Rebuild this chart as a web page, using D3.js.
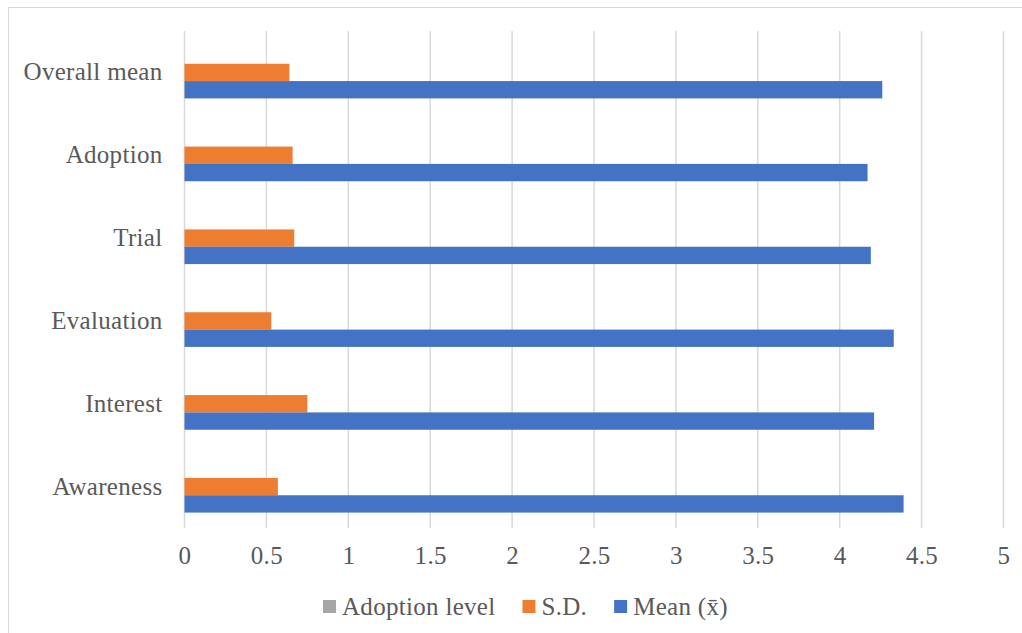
<!DOCTYPE html>
<html>
<head>
<meta charset="utf-8">
<script src="https://cdn.jsdelivr.net/npm/d3@7"></script>
<style>
  body { margin: 0; background: #fff; }
  svg text { fill: #595959; letter-spacing: 0.3px; }
</style>
</head>
<body>
<div id="graph"></div>
<script>
// chart size
var width = 1022;
var height = 633;

// data (top to bottom)
var categories = ["Overall mean", "Adoption", "Trial", "Evaluation", "Interest", "Awareness"];
var meanValues = [4.26, 4.17, 4.19, 4.33, 4.21, 4.39];
var sdValues = [0.64, 0.66, 0.67, 0.53, 0.75, 0.57];
var adoptionLevel = [0, 0, 0, 0, 0, 0];
var seriesNames = ["Adoption level", "S.D.", "Mean (x\u0304)"];
var seriesColors = ["#a5a5a5", "#ed7d31", "#4472c4"];
var xTicks = [0, 0.5, 1, 1.5, 2, 2.5, 3, 3.5, 4, 4.5, 5];

var seriesValues = [adoptionLevel, sdValues, meanValues];

var margin = { top: 31, left: 184.5, right: 1003.5, bottom: 528 };
var fontFamily = "Liberation Serif, Times New Roman, serif";

var svg = d3.select("#graph")
  .append("svg")
  .attr("width", width)
  .attr("height", height);

// chart area border (runs off the picture right and bottom)
svg.append("rect")
  .attr("x", 8.5)
  .attr("y", 7.5)
  .attr("width", width + 10)
  .attr("height", height + 10)
  .attr("fill", "none")
  .attr("stroke", "#d9d9d9")
  .attr("stroke-width", 1);

var xScale = d3.scaleLinear()
  .domain([0, 5])
  .range([margin.left, margin.right]);

var yScale = d3.scaleBand()
  .domain(categories)
  .range([margin.top, margin.bottom])
  .padding(0);

var ySeries = d3.scaleBand()
  .domain(seriesNames)
  .range([0, yScale.bandwidth()])
  .paddingInner(0)
  .paddingOuter(0.89);

// gridlines
svg.append("g")
  .selectAll("line")
  .data(xTicks)
  .join("line")
  .attr("x1", function(d) { return xScale(d); })
  .attr("x2", function(d) { return xScale(d); })
  .attr("y1", margin.top)
  .attr("y2", margin.bottom)
  .attr("stroke", "#d9d9d9")
  .attr("stroke-width", 1.5);

// bars
seriesNames.forEach(function(name, i) {
  svg.append("g")
    .selectAll("rect")
    .data(categories)
    .join("rect")
    .attr("x", xScale(0))
    .attr("y", function(d) { return yScale(d) + ySeries(name); })
    .attr("width", function(d, j) { return xScale(seriesValues[i][j]) - xScale(0); })
    .attr("height", ySeries.bandwidth())
    .attr("fill", seriesColors[i]);
});

// x axis labels
var xAxis = svg.append("g")
  .attr("transform", "translate(0," + margin.bottom + ")")
  .call(d3.axisBottom(xScale).tickValues(xTicks).tickSize(0).tickPadding(18)
    .tickFormat(function(d) { return d; }));
xAxis.select(".domain").remove();
xAxis.attr("font-size", 25).attr("font-family", fontFamily);

// y axis labels
var yAxis = svg.append("g")
  .attr("transform", "translate(" + margin.left + ",0)")
  .call(d3.axisLeft(yScale).tickSize(0).tickPadding(22));
yAxis.select(".domain").remove();
yAxis.attr("font-size", 25).attr("font-family", fontFamily);

// legend
var legend = svg.append("g").attr("transform", "translate(323,600)")
  .attr("font-family", fontFamily).attr("font-size", 25);
var lx = 0;
seriesNames.forEach(function(name, i) {
  var item = legend.append("g").attr("transform", "translate(" + lx + ",0)");
  item.append("rect")
    .attr("width", 13)
    .attr("height", 13)
    .attr("fill", seriesColors[i]);
  var t = item.append("text")
    .attr("x", 19)
    .attr("y", 15)
    .text(name);
  lx += 19 + t.node().getComputedTextLength() + 27;
});
</script>
</body>
</html>
